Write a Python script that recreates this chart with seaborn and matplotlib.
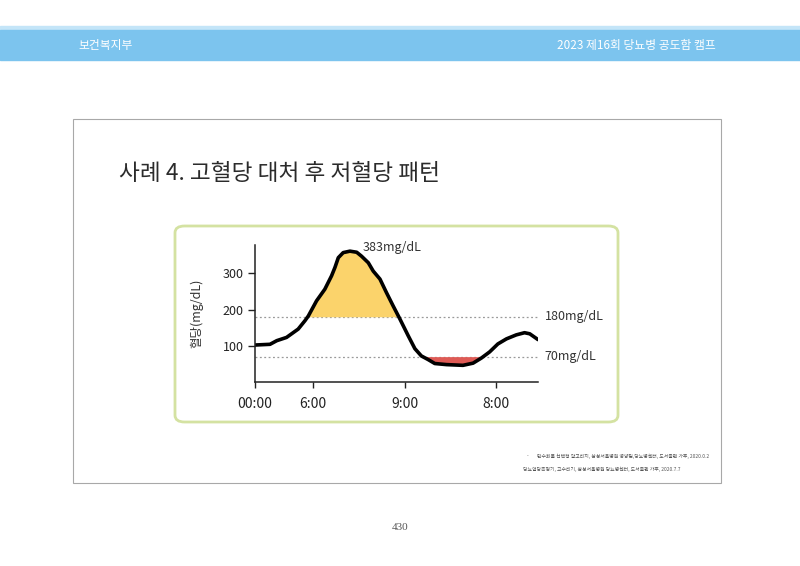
import numpy as np
import pandas as pd
import matplotlib
matplotlib.use("Agg")
import matplotlib.pyplot as plt
import seaborn as sns
from matplotlib.patches import Rectangle, FancyBboxPatch

# curve (time in "tick units", glucose in mg/dL)
time_pos = [0, 0.49, 0.71, 1.03, 1.41, 1.63, 1.74, 2.01, 2.28, 2.5, 2.61, 2.72,
            2.88, 3.1, 3.32, 3.48, 3.7, 3.86, 4.08, 4.29, 4.51, 4.73, 5.0,
            5.22, 5.43, 5.65, 5.87, 6.25, 6.79, 7.12, 7.39, 7.66, 7.93, 8.21,
            8.53, 8.8, 8.97, 9.24]
glucose = [102, 104, 114, 123, 146, 169, 182, 224, 256, 293, 316, 343,
           357, 361, 358, 347, 329, 306, 284, 247, 210, 174, 128,
           92, 72, 62, 51, 48, 46, 52, 66, 83, 105, 119,
           130, 136, 133, 117]
tick_pos = [0, 1.9, 4.9, 7.88]
tick_labels = ["00:00", "6:00", "9:00", "8:00"]
y_ticks = [100, 200, 300]
high_limit = 180
low_limit = 70
peak_label = "383mg/dL"

sns.set_theme(style="white")
plt.rcParams['font.family'] = ['Noto Sans CJK KR', 'DejaVu Sans']

df = pd.DataFrame({"t": time_pos, "g": glucose})
# denser version only for shading
t_fine = np.linspace(df.t.min(), df.t.max(), 800)
g_fine = np.interp(t_fine, df.t, df.g)

fig = plt.figure(figsize=(8, 5.66), dpi=100)
W, H = 800, 566

def fx(x):
    return x / W

def fy(y):
    return 1 - y / H

# header band
fig.patches.append(Rectangle((0, fy(30)), 1, 4 / H, transform=fig.transFigure,
                             color="#c4e5f8", zorder=0))
fig.patches.append(Rectangle((0, fy(60)), 1, 30 / H, transform=fig.transFigure,
                             color="#7cc4ee", zorder=0))
fig.text(fx(78), fy(45), "보건복지부", color="white", fontsize=8.5, va="center")
fig.text(fx(716), fy(45), "2023 제16회 당뇨병 공도함 캠프", color="white",
         fontsize=8.5, va="center", ha="right")

# slide frame
fig.patches.append(Rectangle((fx(73), fy(483)), 648 / W, 364 / H,
                             transform=fig.transFigure, fill=False,
                             edgecolor="#a8a8a8", lw=0.8))
fig.text(fx(119), fy(173), "사례 4. 고혈당 대처 후 저혈당 패턴", color="#2b2b2b",
         fontsize=16.3, va="center")

# green rounded box
fig.patches.append(FancyBboxPatch((fx(175), fy(422)), 443 / W, 196 / H,
                                  boxstyle="round,pad=0,rounding_size=0.012",
                                  transform=fig.transFigure, fill=False,
                                  edgecolor="#d4e2a2", lw=2))

ax = fig.add_axes([fx(255), fy(382), 283 / W, 137 / H])
sns.lineplot(data=df, x="t", y="g", ax=ax, color="black", lw=2.6,
             solid_joinstyle="round", solid_capstyle="round")
ax.fill_between(t_fine, high_limit, g_fine, where=g_fine > high_limit,
                color="#fbd36b", lw=0, zorder=1)
ax.fill_between(t_fine, low_limit, g_fine, where=g_fine < low_limit,
                color="#de5a55", lw=0, zorder=1)
for lim in [high_limit, low_limit]:
    ax.axhline(lim, color="#999999", lw=0.9, ls=(0, (1.5, 2)), zorder=0.5)

ax.set_xlim(0, 9.24)
ax.set_ylim(0, 378)
ax.set_xticks(tick_pos)
ax.set_xticklabels(tick_labels)
ax.set_yticks(y_ticks)
ax.set_xlabel("")
ax.set_ylabel("혈당(mg/dL)", fontsize=9, color="#333333", labelpad=14)
ax.tick_params(axis="x", bottom=True, length=4, width=1, colors="#222222",
               labelsize=10, pad=7)
ax.tick_params(axis="y", left=True, length=5, width=1, colors="#222222",
               labelsize=9, pad=3)
for s in ["top", "right"]:
    ax.spines[s].set_visible(False)
for s in ["left", "bottom"]:
    ax.spines[s].set_color("#222222")
    ax.spines[s].set_linewidth(1.1)

ax.text(9.45, high_limit, f"{high_limit}mg/dL", fontsize=9, color="#333333",
        va="center", clip_on=False)
ax.text(9.45, low_limit, f"{low_limit}mg/dL", fontsize=9, color="#333333",
        va="center", clip_on=False)
ax.text(3.5, 372, peak_label, fontsize=9, color="#333333", va="center",
        clip_on=False)

# footnotes
fig.text(fx(527), fy(456), "-", fontsize=3.5, color="#555555", va="center")
fig.text(fx(537), fy(456),
         "탄수화물 선택형 알고리지, 삼성서울병원 영양팀,당뇨병센터, 도서출판 가후, 2020.0.2",
         fontsize=3.5, color="#555555", va="center")
fig.text(fx(523), fy(469),
         "당뇨혈당측정기, 고수리기, 삼성서울병원 당뇨병센터, 도서출판 가후, 2020.7.7",
         fontsize=3.5, color="#555555", va="center")

fig.text(0.5, fy(527), "430", fontsize=8, color="#555555", ha="center",
         va="center", family="Liberation Serif")

fig.savefig("out.png", dpi=100, facecolor="white")
